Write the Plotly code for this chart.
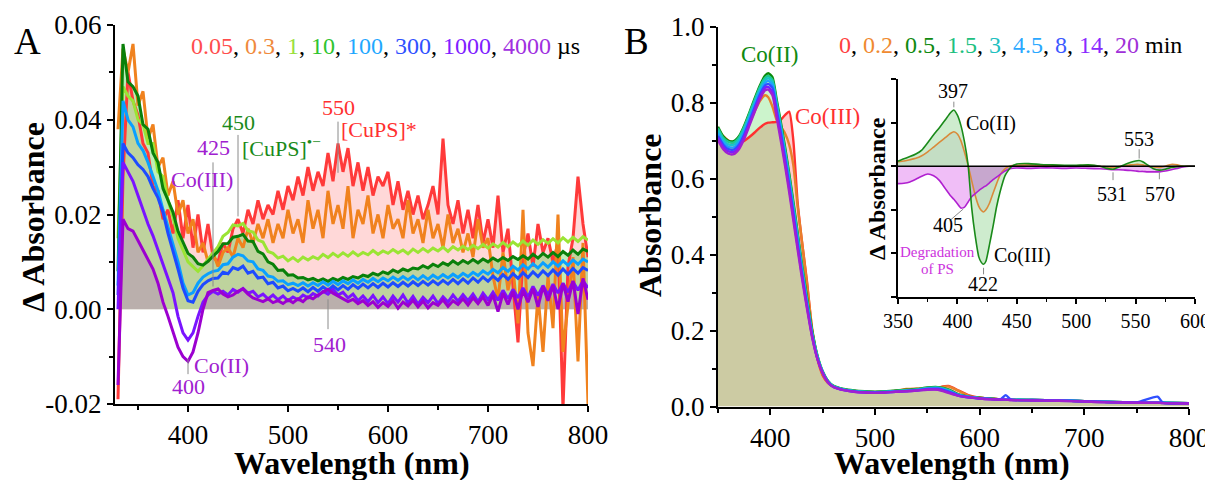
import plotly.graph_objects as go
import numpy as np

# the page body adds an 8 px margin, so the figure is drawn 8 px in from the top-left corner
OFF = 8
W, H = 1213 - OFF, 480 - OFF
FONT = "Liberation Serif"

# ---------------- Panel A data (Delta Absorbance, in units of 1e-3) ----------------
wl_a = list(range(330, 801, 5))
MILLI = 1e-3
a_labels = ["0.05", "0.3", "1", "10", "100", "300", "1000", "4000"]
a_red = [-19, 28, 50, 44, 41, 35, 33, 26, 25, 19,
         21, 16, 23, 15, 22, 13, 20, 12, 18, 11,
         10, 14, 12, 17, 19, 16, 21, 18, 23, 19,
         22, 20, 25, 21, 26, 23, 28, 24, 30, 25,
         29, 26, 33, 27, 35, 29, 34, 26, 31, 25,
         30, 24, 28, 26, 29, 22, 27, 21, 25, 20,
         24, 19, 22, 26, 20, 36, 22, 18, 23, 16,
         21, 15, 22, 14, 19, 13, 24, 12, 17, 5,
         -7, 11, 16, 9, 18, 12, 15, 10, 14, -21,
         9, 15, 28, 18, 11]
a_orange = [38, 55, 50, 56, 43, 46, 36, 39, 30, 32,
            24, 27, 20, 23, 16, 19, 12, 14, 10, 12,
            9, 12, 13, 11, 15, 13, 17, 14, 18, 15,
            19, 14, 18, 15, 21, 16, 19, 14, 23, 17,
            21, 15, 25, 18, 22, 17, 26, 15, 21, 18,
            24, 16, 20, 15, 22, 17, 19, 15, 23, 16,
            19, 14, 21, 15, 18, 13, 20, 14, 17, 12,
            16, 11, 19, 13, 15, 7, 2, 12, 4, 9,
            -3, 21, -5, -12, 3, -9, 7, -4, 20, -9,
            1, 11, -11, 14, -20]
a_lgreen = [15, 47, 45, 44, 40, 39, 35, 35, 29, 28,
            23, 19.5, 15, 12.5, 10, 9, 8, 9.2, 10.5, 12,
            13.2, 15.4, 16.2, 17.8, 17.6, 18.1, 16.6, 16.3, 14.6, 14.2,
            12.2, 11.8, 10.8, 11.2, 10.2, 10.9, 10.1, 11, 10.4, 11.1,
            10.6, 11.6, 10.9, 11.8, 11.1, 11.9, 11.2, 12.1, 11.3, 12,
            11.5, 12.4, 11.6, 12.3, 11.8, 12.6, 11.9, 12.5, 11.7, 12.7,
            12, 12.8, 12.1, 12.9, 12.3, 13.1, 12.2, 13.2, 12.5, 13.3,
            12.6, 13.5, 12.8, 13.7, 12.9, 13.8, 13.1, 14.1, 13.2, 14.2,
            13.4, 14.4, 13.5, 14.6, 13.7, 14.7, 13.9, 14.9, 14, 15.1,
            14.2, 15.2, 14.3, 15.3, 14.6]
a_dgreen = [8, 56, 48, 47, 45, 39, 38, 33, 31, 25.5,
            23, 20.5, 16.5, 14, 11.8, 11, 9.6, 9.3, 10.1, 11.2,
            12.2, 13.8, 13.9, 15.2, 15.4, 15.8, 14.4, 14.3, 12.2, 11.7,
            10, 9.5, 8.2, 8.3, 7.2, 7.3, 6.6, 6.7, 6.2, 6.5,
            6, 6.4, 5.9, 6.5, 6.1, 6.7, 6.3, 6.9, 6.6, 7.2,
            6.9, 7.6, 7.2, 7.9, 7.5, 8.3, 7.8, 8.5, 8.1, 8.7,
            8.5, 9.2, 8.7, 9.5, 9, 9.8, 9.3, 10.2, 9.5, 10.3,
            9.7, 10.5, 9.8, 10.6, 10, 10.8, 10.2, 10.9, 10.3, 11.1,
            10.5, 11.3, 10.6, 11.6, 10.8, 11.8, 11, 12, 11.1, 12.2,
            11.4, 12.5, 11.6, 12.7, 12.2]
a_lblue = [5, 44, 40, 38.5, 35, 33.5, 31, 28, 25, 21,
           17.5, 14, 10, 5.5, 3, 3.5, 5.5, 6.8, 7.5, 8,
           8.2, 9.4, 9.6, 11, 11.6, 11.3, 10.2, 10, 8.5, 8.2,
           7, 6.8, 5.9, 6, 5.2, 5.5, 5, 5.6, 4.9, 5.6,
           5, 5.8, 5.1, 5.9, 5.2, 6, 5.4, 6.2, 5.5, 6.3,
           5.7, 6.5, 5.8, 6.6, 6, 6.8, 6.1, 6.9, 6.2, 7,
           6.2, 7.1, 6.3, 7.2, 6.5, 7.3, 6.6, 7.4, 6.7, 7.6,
           6.9, 7.8, 7.1, 8.1, 7.4, 8.4, 7.7, 8.8, 8, 9.1,
           8.3, 9.4, 8.5, 9.6, 8.7, 9.8, 8.9, 10, 9.1, 10.2,
           9.3, 10.4, 9.5, 10.6, 10]
a_blue = [3, 35, 33, 32, 30.5, 29.5, 28, 25.5, 23.5, 20.5,
          16, 12.5, 8.5, 4.5, 1.8, 1.5, 3.8, 5.2, 6, 6.5,
          6.6, 7.8, 7.5, 8.8, 8.4, 9.1, 7.6, 8, 6.6, 6.8,
          5.4, 5.7, 4.5, 4.9, 3.9, 4.4, 3.8, 4.5, 3.7, 4.6,
          3.8, 4.7, 4, 4.9, 4.1, 5, 4.2, 5.2, 4.4, 5.3,
          4.5, 5.4, 4.6, 5.5, 4.7, 5.6, 4.8, 5.7, 4.9, 5.8,
          5, 5.9, 5.1, 6, 5.2, 6.1, 5.3, 6.3, 5.4, 6.4,
          5.5, 6.6, 5.7, 6.8, 5.9, 7, 6.1, 7.3, 6.3, 7.5,
          6.5, 7.7, 6.7, 7.9, 6.9, 8.1, 7.1, 8.3, 7.2, 8.5,
          7.4, 8.6, 7.6, 8.8, 8.2]
a_violet = [0, 31, 29, 27, 24, 21, 18, 15.5, 12.5, 9.5,
            6.5, 3.5, -1.5, -5, -6.5, -5, -1.5, 1.5, 3, 3.8,
            3.2, 3.8, 3, 4.2, 3.6, 4.4, 3.4, 3.8, 2.6, 3.2,
            2.2, 3, 2, 2.8, 1.8, 2.6, 2, 3, 2.4, 3.3,
            2.8, 3.8, 3.2, 4.2, 3, 3.6, 2.4, 3.2, 1.8, 2.8,
            1.6, 2.9, 1.4, 2.6, 1.2, 2.8, 1.5, 3, 1.3, 2.7,
            1.1, 2.5, 1.4, 2.8, 1.2, 2.6, 1.5, 3, 1.7, 3.1,
            1.8, 3.2, 1.6, 3.4, 2, 3.6, 1.9, 4, 2.2, 4.2,
            2.4, 4.5, 2.6, 4.8, 2.9, 5, 3, 5.3, 3.4, 5.5,
            3.6, 5.8, 4, 6, 4.5]
a_purple = [-16, 19, 17, 16.5, 14.5, 12.5, 10.5, 8.5, 5.5, 1.5,
            -1.5, -5, -8, -10, -11, -9, -5, 0, 3.5, 4,
            4.3, 3.2, 2.6, 3, 3.8, 4.3, 3.2, 2.4, 2, 1.6,
            2.2, 1.4, 1.8, 1.2, 2, 1.4, 2.2, 1.6, 2.6, 2.2,
            3, 3.6, 4.2, 3.4, 2.8, 2.2, 1.6, 2.1, 1.2, 1.8,
            0.8, 1.6, 0.4, 1.4, 0.6, 1.8, 0.2, 1.5, 0.7, 1.9,
            0.5, 1.7, 0.3, 1.4, 0.8, 2, 0.6, 1.8, 1, 2.2,
            0.9, 2.4, 1.2, 2.6, 0.8, 3, -0.5, 3.4, 1, 3.8,
            0, 4, 1.5, 4.4, 0.5, 4.8, 1.8, 5, 0, 5.4,
            1.6, 6, -1, 6.5, 2]
a_series = [a_red, a_orange, a_lgreen, a_dgreen, a_lblue, a_blue, a_violet, a_purple]
a_line_colors = ["#ff3a3a", "#f0821e", "#9be434", "#0a800a", "#0aa0ff", "#1e4bff", "#7a14ff", "#9c00d0"]
a_text_colors = ["#ff4d4d", "#f08a3c", "#99e03c", "#2fc42f", "#1fa8ff", "#3050ff", "#8020ff", "#a030e0"]

# ---------------- Panel B data (Absorbance) ----------------
wl_b = [350, 355, 360, 365, 370, 375, 380, 385, 390, 395, 398, 402, 406, 410, 414, 418, 422, 426, 430, 435,
        440, 445, 450, 455, 460, 470, 480, 490, 500, 510, 520, 530, 540, 550, 560, 570, 580, 590, 600, 610,
        620, 625, 630, 650, 675, 700, 725, 750, 770, 775, 800]
b_labels = ["0", "0.2", "0.5", "1.5", "3", "4.5", "8", "14", "20"]
b_0 = [0.728, 0.712, 0.700, 0.694, 0.694, 0.700, 0.710, 0.722, 0.735, 0.745,
       0.748, 0.749, 0.750, 0.756, 0.768, 0.777, 0.70, 0.54, 0.44, 0.33,
       0.20, 0.125, 0.082, 0.062, 0.052, 0.045, 0.041, 0.039, 0.038, 0.039,
       0.041, 0.045, 0.046, 0.046, 0.050, 0.054, 0.042, 0.029, 0.023, 0.021,
       0.019, 0.019, 0.018, 0.017, 0.016, 0.014, 0.012, 0.011, 0.010, 0.010, 0.009]
b_02 = [0.728, 0.712, 0.700, 0.696, 0.703, 0.722, 0.748, 0.777, 0.805, 0.82,
        0.815, 0.79, 0.755, 0.738, 0.72, 0.69, 0.635, 0.53, 0.44, 0.325,
        0.205, 0.13, 0.085, 0.063, 0.053, 0.045, 0.041, 0.039, 0.038, 0.039,
        0.041, 0.046, 0.047, 0.047, 0.050, 0.053, 0.041, 0.028, 0.023, 0.021,
        0.019, 0.019, 0.018, 0.017, 0.016, 0.014, 0.012, 0.011, 0.010, 0.010, 0.009]
b_05 = [0.737, 0.712, 0.700, 0.699, 0.712, 0.740, 0.775, 0.812, 0.846, 0.872,
        0.878, 0.868, 0.81, 0.75, 0.685, 0.615, 0.54, 0.46, 0.38, 0.288,
        0.20, 0.135, 0.093, 0.068, 0.055, 0.046, 0.042, 0.040, 0.039, 0.040,
        0.042, 0.044, 0.046, 0.050, 0.051, 0.045, 0.032, 0.026, 0.023, 0.021,
        0.019, 0.019, 0.018, 0.017, 0.016, 0.014, 0.012, 0.011, 0.011, 0.010, 0.009]
b_15 = [0.733, 0.708, 0.697, 0.696, 0.709, 0.737, 0.772, 0.808, 0.842, 0.866,
        0.871, 0.861, 0.803, 0.743, 0.678, 0.608, 0.533, 0.453, 0.374, 0.283,
        0.196, 0.133, 0.092, 0.067, 0.054, 0.045, 0.041, 0.039, 0.038, 0.039,
        0.041, 0.043, 0.045, 0.049, 0.050, 0.044, 0.031, 0.025, 0.022, 0.020,
        0.019, 0.019, 0.018, 0.017, 0.016, 0.014, 0.012, 0.011, 0.011, 0.010, 0.009]
b_3 = [0.727, 0.702, 0.691, 0.690, 0.703, 0.731, 0.766, 0.802, 0.836, 0.860,
       0.865, 0.855, 0.797, 0.737, 0.671, 0.600, 0.525, 0.446, 0.367, 0.277,
       0.192, 0.131, 0.091, 0.066, 0.053, 0.045, 0.041, 0.039, 0.038, 0.039,
       0.040, 0.042, 0.044, 0.048, 0.049, 0.042, 0.030, 0.025, 0.022, 0.020,
       0.019, 0.019, 0.018, 0.017, 0.016, 0.014, 0.012, 0.011, 0.010, 0.010, 0.009]
b_45 = [0.720, 0.696, 0.684, 0.683, 0.696, 0.724, 0.759, 0.795, 0.829, 0.853,
        0.858, 0.848, 0.790, 0.730, 0.664, 0.593, 0.517, 0.438, 0.360, 0.272,
        0.189, 0.129, 0.090, 0.065, 0.053, 0.044, 0.040, 0.038, 0.037, 0.038,
        0.040, 0.041, 0.043, 0.047, 0.048, 0.041, 0.030, 0.025, 0.022, 0.020,
        0.019, 0.019, 0.018, 0.017, 0.016, 0.014, 0.012, 0.011, 0.010, 0.010, 0.009]
b_8 = [0.713, 0.690, 0.678, 0.677, 0.690, 0.717, 0.752, 0.788, 0.822, 0.846,
       0.850, 0.840, 0.782, 0.722, 0.656, 0.585, 0.510, 0.431, 0.354, 0.267,
       0.186, 0.127, 0.089, 0.065, 0.052, 0.044, 0.040, 0.038, 0.037, 0.038,
       0.039, 0.041, 0.043, 0.046, 0.047, 0.040, 0.029, 0.024, 0.021, 0.020,
       0.019, 0.030, 0.018, 0.017, 0.016, 0.014, 0.012, 0.011, 0.026, 0.010, 0.009]
b_14 = [0.708, 0.684, 0.672, 0.671, 0.684, 0.711, 0.746, 0.782, 0.816, 0.840,
        0.842, 0.829, 0.772, 0.711, 0.645, 0.575, 0.500, 0.423, 0.349, 0.263,
        0.184, 0.126, 0.088, 0.064, 0.052, 0.043, 0.039, 0.037, 0.036, 0.037,
        0.039, 0.040, 0.042, 0.045, 0.045, 0.038, 0.028, 0.024, 0.021, 0.019,
        0.018, 0.018, 0.017, 0.016, 0.015, 0.013, 0.011, 0.010, 0.010, 0.009, 0.008]
b_20 = [0.702, 0.678, 0.666, 0.665, 0.678, 0.705, 0.740, 0.776, 0.810, 0.833,
        0.835, 0.82, 0.762, 0.70, 0.635, 0.565, 0.49, 0.415, 0.342, 0.258,
        0.181, 0.125, 0.088, 0.064, 0.052, 0.043, 0.039, 0.037, 0.036, 0.037,
        0.039, 0.040, 0.042, 0.044, 0.044, 0.036, 0.028, 0.024, 0.021, 0.019,
        0.018, 0.018, 0.017, 0.016, 0.015, 0.013, 0.011, 0.010, 0.010, 0.009, 0.008]
b_series = [b_0, b_02, b_05, b_15, b_3, b_45, b_8, b_14, b_20]
b_line_colors = ["#ff3030", "#e8802a", "#0a8a0a", "#1ec88c", "#18c4c8", "#1ea0ff", "#3050ff", "#7a1eff", "#a020d0"]
b_text_colors = ["#ff4040", "#f08a30", "#108a10", "#20c080", "#20c0c0", "#2aa8ff", "#3c5aff", "#8a2aff", "#a030d8"]

# ---------------- Inset data (difference spectra, arbitrary units) ----------------
wl_i = [350, 355, 360, 365, 370, 375, 380, 385, 390, 394, 397, 400, 403, 406, 409, 412, 415, 418, 420, 422,
        424, 427, 430, 433, 436, 440, 445, 450, 460, 470, 480, 490, 500, 510, 520, 526, 531, 536, 541, 546,
        550, 553, 556, 560, 565, 570, 575, 580, 585, 590, 595, 600]
i_green = [0.115, 0.17, 0.22, 0.28, 0.37, 0.54, 0.72, 0.89, 1.07, 1.22,
           1.29, 1.17, 0.93, 0.55, 0.03, -0.95, -1.6, -2.08, -2.2, -2.25,
           -2.18, -1.8, -1.38, -0.93, -0.58, -0.22, -0.02, 0.05, 0.06, 0.04,
           0.03, 0.02, 0.02, 0.03, 0.0, -0.05, -0.07, -0.02, 0.04, 0.09,
           0.12, 0.13, 0.1, 0.03, -0.06, -0.09, -0.07, -0.03, -0.01, 0.0, 0.0, 0.0]
i_orange = [0.10, 0.12, 0.15, 0.18, 0.24, 0.33, 0.44, 0.55, 0.66, 0.75,
            0.79, 0.74, 0.58, 0.32, 0.02, -0.33, -0.67, -0.92, -1.01, -1.05,
            -1.0, -0.85, -0.62, -0.40, -0.2, -0.06, 0.01, 0.02, 0.03, 0.02,
            0.02, 0.01, 0.01, 0.02, 0.0, -0.02, -0.03, -0.01, 0.01, 0.03,
            0.04, 0.04, 0.03, 0.0, -0.02, -0.03, 0.0, 0.04, 0.03, 0.0, 0.01, 0.0]
i_purple = [-0.40, -0.39, -0.36, -0.30, -0.23, -0.18, -0.22, -0.33, -0.52, -0.67,
            -0.76, -0.86, -0.96, -0.94, -0.82, -0.70, -0.63, -0.56, -0.52, -0.48,
            -0.45, -0.38, -0.31, -0.25, -0.19, -0.11, -0.05, -0.04, -0.05, -0.04,
            -0.04, -0.05, -0.04, -0.05, -0.06, -0.07, -0.08, -0.08, -0.09, -0.10,
            -0.11, -0.12, -0.12, -0.13, -0.13, -0.13, -0.11, -0.08, -0.05, -0.02, 0.0, 0.0]

for s in a_series:
    assert len(s) == len(wl_a)
for s in b_series:
    assert len(s) == len(wl_b)
for s in (i_green, i_orange, i_purple):
    assert len(s) == len(wl_i)

fig = go.Figure()

# ---- Panel A fills then lines ----
a_vals = [np.array(s) * MILLI for s in a_series]
for idx, fc in [(0, "rgba(255,60,60,0.20)"), (3, "rgba(40,200,20,0.30)"), (7, "rgba(180,110,200,0.35)")]:
    fig.add_trace(go.Scatter(x=wl_a, y=np.clip(a_vals[idx], 0, None), mode="lines", line=dict(width=0),
                             fill="tozeroy", fillcolor=fc, hoverinfo="skip", showlegend=False,
                             xaxis="x", yaxis="y"))
for v, c, lab in zip(a_vals, a_line_colors, a_labels):
    fig.add_trace(go.Scatter(x=wl_a, y=v, mode="lines", line=dict(color=c, width=3), name=lab + " µs",
                             showlegend=False, xaxis="x", yaxis="y"))

# ---- Panel B fills then lines ----
fig.add_trace(go.Scatter(x=wl_b, y=b_0, mode="lines", line=dict(width=0, shape="spline"), fill="tozeroy",
                         fillcolor="rgba(255,0,0,0.20)", hoverinfo="skip", showlegend=False, xaxis="x2", yaxis="y2"))
fig.add_trace(go.Scatter(x=wl_b, y=b_05, mode="lines", line=dict(width=0, shape="spline"), fill="tozeroy",
                         fillcolor="rgba(0,200,0,0.20)", hoverinfo="skip", showlegend=False, xaxis="x2", yaxis="y2"))
for v, c, lab in zip(b_series, b_line_colors, b_labels):
    fig.add_trace(go.Scatter(x=wl_b, y=v, mode="lines", line=dict(color=c, width=2.4, shape="spline", smoothing=0.6),
                             name=lab + " min", showlegend=False, xaxis="x2", yaxis="y2"))

# ---- Inset ----
for v, fc in [(i_green, "rgba(30,170,30,0.22)"), (i_orange, "rgba(120,120,120,0.12)"), (i_purple, "rgba(205,40,230,0.30)")]:
    fig.add_trace(go.Scatter(x=wl_i, y=v, mode="lines", line=dict(width=0, shape="spline"), fill="tozeroy",
                             fillcolor=fc, hoverinfo="skip", showlegend=False, xaxis="x3", yaxis="y3"))
for v, c in [(i_orange, "#d98a3a"), (i_purple, "#b020d0"), (i_green, "#1a8a1a")]:
    fig.add_trace(go.Scatter(x=wl_i, y=v, mode="lines", line=dict(color=c, width=1.6, shape="spline", smoothing=0.5),
                             showlegend=False, xaxis="x3", yaxis="y3"))


def px(xp):
    # screen x pixel -> paper fraction
    return (xp - OFF) / W


def py(yp):
    # screen y pixel -> paper fraction
    return 1 - (yp - OFF) / H


axis_common = dict(showline=True, linecolor="black", linewidth=2, ticks="outside", ticklen=6, tickwidth=2,
                   tickcolor="black", showgrid=False, zeroline=False, automargin=False,
                   tickfont=dict(family=FONT, size=27, color="black"))
minor_common = dict(ticks="outside", ticklen=4, tickwidth=1.5, tickcolor="black", showgrid=False)

fig.update_layout(
    template="none",
    width=W, height=H, margin=dict(l=0, r=0, t=0, b=0, pad=0, autoexpand=False),
    paper_bgcolor="white", plot_bgcolor="rgba(0,0,0,0)", showlegend=False,
    font=dict(family=FONT, color="black"),
    xaxis=dict(domain=[px(115), px(588)], range=[327, 800], anchor="y", tickvals=[400, 500, 600, 700, 800],
               minor=dict(dtick=50, tick0=0, **minor_common), **axis_common),
    yaxis=dict(domain=[py(404), py(25)], range=[-0.02, 0.06], anchor="x",
               tickvals=[-0.02, 0, 0.02, 0.04, 0.06], ticktext=["-0.02", "0.00", "0.02", "0.04", "0.06"],
               minor=dict(dtick=0.01, tick0=0, **minor_common), **axis_common),
    xaxis2=dict(domain=[px(718), px(1189)], range=[350, 800], anchor="y2", tickvals=[400, 500, 600, 700, 800],
                minor=dict(dtick=50, tick0=0, **minor_common), **axis_common),
    yaxis2=dict(domain=[py(406.5), py(27)], range=[0, 1.0], anchor="x2", dtick=0.2, tickformat=".1f",
                minor=dict(dtick=0.1, tick0=0, **minor_common), **axis_common),
    xaxis3=dict(domain=[px(898), px(1195)], range=[350, 600], anchor="y3", dtick=50, tick0=350,
                showline=True, linecolor="black", linewidth=2, ticks="outside", ticklen=5, tickwidth=1.5,
                tickcolor="black", showgrid=False, zeroline=False, automargin=False,
                tickfont=dict(family=FONT, size=20, color="black"),
                minor=dict(dtick=25, tick0=0, ticks="outside", ticklen=3, tickwidth=1, tickcolor="black")),
    yaxis3=dict(domain=[py(297), py(79)], range=[-3, 2], anchor="x3", dtick=1, showticklabels=False,
                showline=True, linecolor="black", linewidth=2, ticks="outside", ticklen=5, tickwidth=1.5,
                tickcolor="black", showgrid=False, zeroline=False, automargin=False),
)

ann = []


def text(t, x, y, size, color="black", xref="paper", yref="paper", angle=0, **kw):
    ann.append(dict(text=t, x=x, y=y, xref=xref, yref=yref, showarrow=False, textangle=angle,
                    xanchor="center", yanchor="middle",
                    font=dict(family=FONT, size=size, color=color), **kw))


# panel letters and axis titles
text("A", px(27), py(41), 37)
text("B", px(636), py(41), 37)
text("<b>Δ Absorbance</b>", px(33), py(217), 32, angle=-90)
text("<b>Wavelength (nm)</b>", px(352), py(463), 32)
text("<b>Absorbance</b>", px(650), py(215), 32, angle=-90)
text("<b>Wavelength (nm)</b>", px(952), py(463), 32)
text("<b>Δ Absorbance</b>", px(877), py(189), 24, angle=-90)

# colour-coded legends
leg_a = ", ".join(f'<span style="color:{c}">{l}</span>' for l, c in zip(a_labels, a_text_colors)) + " µs"
text(leg_a, px(385), py(46), 24)
leg_b = ", ".join(f'<span style="color:{c}">{l}</span>' for l, c in zip(b_labels, b_text_colors)) + " min"
text(leg_b, px(1010), py(45), 24)

# panel A peak labels
RED, GRN, PUR = "#ff3030", "#1a8a1a", "#a020d0"
for t, x, y, c in [("550", 550, 0.0425, RED), ("[CuPS]*", 591, 0.0379, RED),
                   ("450", 450, 0.0394, GRN), ("[CuPS]<sup>•−</sup>", 493, 0.0343, GRN),
                   ("425", 425, 0.0341, PUR), ("Co(III)", 414, 0.0274, PUR),
                   ("540", 541, -0.0074, PUR), ("Co(II)", 433, -0.0118, PUR), ("400", 400, -0.0164, PUR)]:
    text(t, x, y, 22, c, xref="x", yref="y")

# panel B labels
text("Co(II)", 399, 0.927, 23, "#108a10", xref="x2", yref="y2")
text("Co(III)", 455, 0.764, 23, "#ff3030", xref="x2", yref="y2")

# inset labels
for t, x, y in [("397", 396.3, 1.72), ("Co(II)", 428, 0.98), ("553", 553, 0.62), ("531", 530, -0.64),
                ("570", 570.5, -0.64), ("405", 392, -1.36), ("Co(III)", 455, -2.05), ("422", 421.5, -2.71)]:
    text(t, x, y, 20, "black", xref="x3", yref="y3")
text("Degradation", 383.5, -1.97, 15, "#cc33dd", xref="x3", yref="y3")
text("of PS", 383.5, -2.35, 15, "#cc33dd", xref="x3", yref="y3")

fig.update_layout(annotations=ann)

shapes = []
LEAD = dict(color="#8a8a8a", width=1)
for x, y0, y1 in [(550, 0.0396, 0.0288), (450, 0.0368, 0.0196), (425, 0.031, 0.0048),
                  (540, 0.0021, -0.0042), (400, -0.0105, -0.0137)]:
    shapes.append(dict(type="line", xref="x", yref="y", x0=x, x1=x, y0=y0, y1=y1, line=LEAD))
for x0, y0, x1, y1 in [(397, 1.48, 397, 1.35), (553, 0.39, 553, 0.175), (531, -0.14, 531, -0.32),
                       (570, -0.14, 570, -0.30), (405, -0.98, 393.5, -1.25), (422, -2.33, 422, -2.48)]:
    shapes.append(dict(type="line", xref="x3", yref="y3", x0=x0, x1=x1, y0=y0, y1=y1, line=LEAD))
shapes.append(dict(type="line", xref="x3", yref="y3", x0=350, x1=600, y0=0, y1=0,
                   line=dict(color="black", width=1.5), layer="above"))
fig.update_layout(shapes=shapes)

fig.write_html("out.html")
